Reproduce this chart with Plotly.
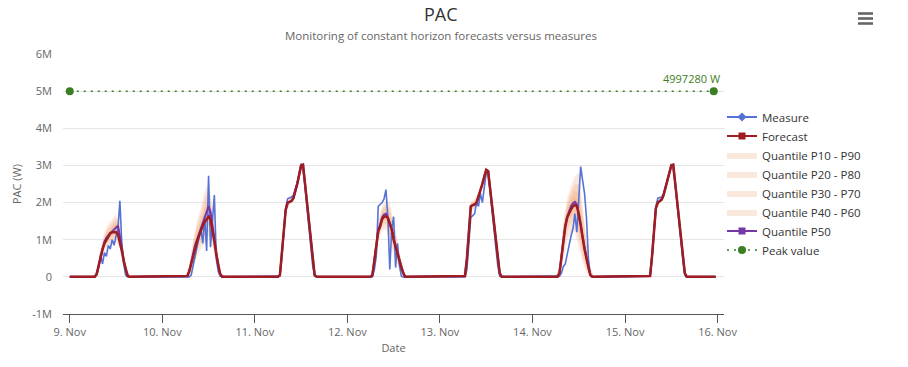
import plotly.graph_objects as go
from datetime import datetime, timedelta

# ---------------- data ----------------
DAYS = ["2023-11-09", "2023-11-10", "2023-11-11", "2023-11-12",
        "2023-11-13", "2023-11-14", "2023-11-15"]
TICK_DATES = ["2023-11-09", "2023-11-10", "2023-11-11", "2023-11-12",
              "2023-11-13", "2023-11-14", "2023-11-15", "2023-11-16"]
TICK_LABELS = ["9. Nov", "10. Nov", "11. Nov", "12. Nov",
               "13. Nov", "14. Nov", "15. Nov", "16. Nov"]
Y_TICKS = [-1e6, 0, 1e6, 2e6, 3e6, 4e6, 5e6, 6e6]
Y_LABELS = ["-1M", "0", "1M", "2M", "3M", "4M", "5M", "6M"]

# daytime half-hour slots (hours), values outside are 0 W
HALF_HOURS = [6, 6.5, 7, 7.5, 8, 8.5, 9, 9.5, 10, 10.5, 11, 11.5,
              12, 12.5, 13, 13.5, 14, 14.5, 15, 15.5, 16, 16.5, 17]
# quantile slots (hours)
Q_HOURS = [6, 7, 8, 9, 10, 11, 12, 13, 14, 15, 16]

# values in MW
MEASURE_MW = [
    [0, 0, 0.05, 0.25, 0.6, 0.35, 0.65, 0.55, 0.85, 0.75, 1.0, 0.85, 1.1, 1.3, 2.05, 0.9, 0.35, 0.05, 0, 0, 0, 0, 0],
    [0, 0, 0, 0.05, 0.3, 0.5, 0.75, 1.0, 1.3, 0.9, 1.6, 0.7, 2.72, 0.8, 1.6, 2.2, 0.5, 0.15, 0.02, 0, 0, 0, 0],
    [0, 0.02, 0.5, 1.15, 1.85, 2.1, 2.12, 2.15, 2.2, 2.35, 2.55, 2.8, 3.05, 2.95, 2.4, 1.85, 1.3, 0.8, 0.3, 0.02, 0, 0, 0],
    [0, 0, 0.2, 0.55, 1.9, 1.95, 2.0, 2.1, 2.35, 1.6, 0.2, 1.3, 1.62, 0.25, 0.9, 0.3, 0.02, 0, 0, 0, 0, 0, 0],
    [0, 0, 0.2, 0.8, 1.6, 1.65, 1.7, 2.0, 1.9, 2.25, 2.0, 2.4, 2.8, 2.8, 2.3, 1.75, 1.25, 0.75, 0.3, 0.02, 0, 0, 0],
    [0, 0, 0.02, 0.1, 0.28, 0.35, 0.6, 0.9, 1.1, 1.3, 1.7, 1.2, 2.2, 2.97, 2.6, 2.25, 1.6, 0.5, 0.05, 0, 0, 0, 0],
    [0, 0.02, 0.5, 1.2, 1.9, 2.12, 2.13, 2.15, 2.25, 2.42, 2.62, 2.82, 3.02, 2.98, 2.5, 1.95, 1.45, 0.95, 0.45, 0.05, 0, 0, 0],
]
FORECAST_MW = [
    [0, 0, 0.08, 0.3, 0.55, 0.75, 0.9, 1.0, 1.1, 1.17, 1.2, 1.2, 1.2, 1.15, 0.95, 0.7, 0.42, 0.18, 0.03, 0, 0, 0, 0],
    [0, 0.02, 0.15, 0.35, 0.6, 0.8, 0.95, 1.1, 1.25, 1.38, 1.48, 1.56, 1.62, 1.55, 1.3, 0.95, 0.6, 0.3, 0.08, 0, 0, 0, 0],
    [0, 0.05, 0.6, 1.2, 1.8, 2.0, 2.02, 2.04, 2.12, 2.3, 2.5, 2.75, 3.0, 3.02, 2.5, 1.95, 1.45, 0.95, 0.45, 0.05, 0, 0, 0],
    [0, 0.05, 0.4, 0.85, 1.22, 1.35, 1.55, 1.62, 1.63, 1.58, 1.45, 1.28, 1.0, 0.8, 0.6, 0.42, 0.25, 0.1, 0, 0, 0, 0, 0],
    [0, 0.02, 0.5, 1.3, 1.9, 1.93, 1.95, 2.0, 2.15, 2.3, 2.5, 2.7, 2.88, 2.85, 2.4, 1.9, 1.4, 0.9, 0.45, 0.1, 0, 0, 0],
    [0, 0, 0.1, 0.5, 1.0, 1.35, 1.6, 1.72, 1.82, 1.9, 1.94, 1.9, 1.7, 1.4, 1.05, 0.75, 0.5, 0.25, 0.05, 0, 0, 0, 0],
    [0, 0.02, 0.55, 1.25, 1.85, 2.0, 2.03, 2.08, 2.2, 2.4, 2.6, 2.8, 3.0, 3.02, 2.55, 2.0, 1.5, 1.0, 0.5, 0.1, 0, 0, 0],
]
P50_MW = [
    [0, 0, 0.08, 0.3, 0.55, 0.78, 0.95, 1.05, 1.12, 1.18, 1.22, 1.28, 1.33, 1.38, 1.1, 0.75, 0.45, 0.2, 0.04, 0, 0, 0, 0],
    [0, 0.02, 0.15, 0.35, 0.62, 0.85, 1.0, 1.15, 1.3, 1.45, 1.6, 1.75, 1.9, 1.75, 1.4, 1.0, 0.62, 0.3, 0.08, 0, 0, 0, 0],
    [0, 0.05, 0.6, 1.2, 1.8, 2.0, 2.02, 2.04, 2.12, 2.3, 2.5, 2.75, 3.0, 3.02, 2.5, 1.95, 1.45, 0.95, 0.45, 0.05, 0, 0, 0],
    [0, 0.05, 0.42, 0.9, 1.28, 1.4, 1.6, 1.68, 1.7, 1.6, 1.45, 1.28, 1.02, 0.82, 0.65, 0.45, 0.28, 0.1, 0, 0, 0, 0, 0],
    [0, 0.02, 0.5, 1.3, 1.9, 1.93, 1.95, 2.0, 2.15, 2.3, 2.5, 2.7, 2.88, 2.85, 2.4, 1.9, 1.4, 0.9, 0.45, 0.1, 0, 0, 0],
    [0, 0, 0.1, 0.5, 1.0, 1.38, 1.62, 1.78, 1.9, 1.98, 2.02, 1.95, 1.72, 1.4, 1.05, 0.75, 0.5, 0.25, 0.05, 0, 0, 0, 0],
    [0, 0.02, 0.55, 1.25, 1.85, 2.0, 2.03, 2.08, 2.2, 2.4, 2.6, 2.8, 3.0, 3.02, 2.55, 2.0, 1.5, 1.0, 0.5, 0.1, 0, 0, 0],
]

P10_MW = [
    [0, 0.02, 0.35, 0.7, 0.85, 0.9, 0.95, 0.75, 0.25, 0, 0],
    [0, 0.01, 0.3, 0.55, 0.75, 0.9, 1.1, 0.85, 0.32, 0, 0],
    [0, 0.54, 1.72, 1.94, 2.04, 2.42, 2.93, 2.42, 1.38, 0.4, 0],
    [0, 0.22, 0.98, 1.25, 1.28, 0.95, 0.6, 0.33, 0.1, 0, 0],
    [0, 0.38, 1.78, 1.82, 2.0, 2.35, 2.76, 2.2, 1.25, 0.35, 0],
    [0, 0, 0.42, 1.0, 1.2, 1.22, 0.8, 0.38, 0.12, 0, 0],
    [0, 0.5, 1.79, 1.97, 2.13, 2.53, 2.94, 2.48, 1.44, 0.45, 0],
]
P20_MW = [
    [0, 0.04, 0.42, 0.78, 0.93, 1.0, 1.07, 0.86, 0.32, 0.01, 0],
    [0, 0.04, 0.4, 0.7, 0.92, 1.12, 1.38, 1.05, 0.42, 0.02, 0],
    [0, 0.56, 1.74, 1.96, 2.06, 2.44, 2.95, 2.44, 1.4, 0.41, 0],
    [0, 0.3, 1.08, 1.38, 1.42, 1.1, 0.72, 0.42, 0.16, 0, 0],
    [0, 0.41, 1.81, 1.85, 2.04, 2.39, 2.79, 2.25, 1.29, 0.38, 0],
    [0, 0.02, 0.6, 1.24, 1.45, 1.5, 1.05, 0.55, 0.22, 0, 0],
    [0, 0.51, 1.8, 1.98, 2.15, 2.55, 2.95, 2.5, 1.45, 0.46, 0],
]
P30_MW = [
    [0, 0.05, 0.47, 0.85, 1.0, 1.08, 1.17, 0.95, 0.37, 0.02, 0],
    [0, 0.07, 0.48, 0.8, 1.05, 1.3, 1.58, 1.18, 0.5, 0.04, 0],
    [0, 0.57, 1.76, 1.98, 2.08, 2.46, 2.96, 2.46, 1.41, 0.42, 0],
    [0, 0.34, 1.15, 1.46, 1.52, 1.22, 0.82, 0.5, 0.2, 0, 0],
    [0, 0.44, 1.84, 1.88, 2.08, 2.43, 2.82, 2.3, 1.33, 0.4, 0],
    [0, 0.04, 0.74, 1.38, 1.62, 1.7, 1.25, 0.7, 0.3, 0.01, 0],
    [0, 0.52, 1.82, 2.0, 2.17, 2.57, 2.97, 2.52, 1.47, 0.47, 0],
]
P40_MW = [
    [0, 0.07, 0.51, 0.9, 1.06, 1.15, 1.25, 1.03, 0.41, 0.03, 0],
    [0, 0.1, 0.55, 0.9, 1.18, 1.45, 1.75, 1.3, 0.56, 0.06, 0],
    [0, 0.59, 1.78, 2.0, 2.1, 2.48, 2.98, 2.48, 1.43, 0.44, 0],
    [0, 0.38, 1.22, 1.54, 1.62, 1.35, 0.93, 0.58, 0.24, 0, 0],
    [0, 0.47, 1.87, 1.92, 2.12, 2.47, 2.85, 2.35, 1.37, 0.43, 0],
    [0, 0.06, 0.86, 1.5, 1.76, 1.86, 1.45, 0.85, 0.38, 0.02, 0],
    [0, 0.54, 1.84, 2.02, 2.19, 2.59, 2.99, 2.54, 1.49, 0.49, 0],
]
P60_MW = [
    [0, 0.1, 0.6, 1.0, 1.18, 1.3, 1.42, 1.18, 0.5, 0.06, 0],
    [0, 0.2, 0.7, 1.1, 1.42, 1.75, 2.05, 1.5, 0.68, 0.1, 0],
    [0, 0.61, 1.82, 2.04, 2.14, 2.52, 3.02, 2.52, 1.47, 0.46, 0],
    [0, 0.46, 1.33, 1.66, 1.78, 1.56, 1.12, 0.72, 0.32, 0.01, 0],
    [0, 0.53, 1.93, 1.98, 2.18, 2.53, 2.91, 2.45, 1.43, 0.47, 0],
    [0, 0.15, 1.14, 1.74, 2.04, 2.18, 2.0, 1.28, 0.62, 0.1, 0],
    [0, 0.56, 1.86, 2.04, 2.21, 2.61, 3.01, 2.56, 1.51, 0.51, 0],
]
P70_MW = [
    [0, 0.12, 0.65, 1.05, 1.24, 1.37, 1.5, 1.25, 0.55, 0.08, 0],
    [0, 0.25, 0.8, 1.25, 1.55, 1.9, 2.2, 1.62, 0.76, 0.13, 0],
    [0, 0.63, 1.84, 2.06, 2.16, 2.54, 3.04, 2.54, 1.49, 0.48, 0],
    [0, 0.5, 1.38, 1.74, 1.86, 1.7, 1.26, 0.8, 0.36, 0.03, 0],
    [0, 0.56, 1.96, 2.02, 2.22, 2.57, 2.94, 2.5, 1.47, 0.5, 0],
    [0, 0.2, 1.26, 1.86, 2.17, 2.34, 2.25, 1.5, 0.75, 0.15, 0],
    [0, 0.58, 1.88, 2.06, 2.23, 2.63, 3.03, 2.58, 1.53, 0.53, 0],
]
P80_MW = [
    [0, 0.15, 0.7, 1.12, 1.32, 1.45, 1.58, 1.33, 0.62, 0.11, 0],
    [0, 0.3, 0.9, 1.38, 1.7, 2.1, 2.35, 1.75, 0.85, 0.16, 0],
    [0, 0.64, 1.86, 2.08, 2.18, 2.56, 3.05, 2.56, 1.5, 0.49, 0],
    [0, 0.55, 1.44, 1.82, 1.95, 1.85, 1.38, 0.88, 0.4, 0.04, 0],
    [0, 0.59, 1.99, 2.05, 2.26, 2.61, 2.97, 2.55, 1.51, 0.52, 0],
    [0, 0.25, 1.38, 1.98, 2.3, 2.5, 2.5, 1.7, 0.85, 0.2, 0],
    [0, 0.59, 1.9, 2.08, 2.25, 2.65, 3.05, 2.6, 1.55, 0.54, 0],
]
P90_MW = [
    [0, 0.2, 0.78, 1.2, 1.42, 1.55, 1.68, 1.42, 0.7, 0.15, 0],
    [0, 0.35, 1.0, 1.5, 1.85, 2.3, 2.55, 1.9, 0.95, 0.2, 0],
    [0, 0.66, 1.88, 2.1, 2.2, 2.58, 3.07, 2.58, 1.52, 0.5, 0],
    [0, 0.6, 1.5, 1.9, 2.05, 2.0, 1.5, 0.95, 0.45, 0.05, 0],
    [0, 0.62, 2.02, 2.08, 2.3, 2.65, 3.0, 2.6, 1.55, 0.55, 0],
    [0, 0.3, 1.5, 2.1, 2.45, 2.7, 2.8, 1.9, 0.95, 0.25, 0],
    [0, 0.6, 1.91, 2.09, 2.27, 2.67, 3.06, 2.62, 1.56, 0.55, 0],
]

PEAK_W = 4997280
PEAK_START = "2023-11-09 00:00"
PEAK_END = "2023-11-15 23:00"

# ---------------- build series ----------------
def full_series(day_lists):
    xs, ys = [], []
    for d, day in enumerate(DAYS):
        base = datetime.fromisoformat(day)
        for k in range(48):
            h = k / 2
            xs.append(base + timedelta(hours=h))
            ys.append(day_lists[d][HALF_HOURS.index(h)] * 1e6 if h in HALF_HOURS else 0.0)
    return xs, ys


def band(lo, hi):
    xs, ys = [], []
    for d, day in enumerate(DAYS):
        base = datetime.fromisoformat(day)
        t = [base + timedelta(hours=h) for h in Q_HOURS]
        xs += t + t[::-1] + [None]
        ys += [v * 1e6 for v in hi[d]] + [v * 1e6 for v in lo[d][::-1]] + [None]
    return xs, ys


FONT = "Open Sans, Lato, sans-serif"
C_MEAS = "#5672d6"
C_FC = "#9e1c22"
C_P50 = "#7437a8"
C_PEAK = "#3c7e22"
BAND_FILL = "rgba(240,158,108,0.24)"

fig = go.Figure()

bands = [("Quantile P10 - P90", P10_MW, P90_MW),
         ("Quantile P20 - P80", P20_MW, P80_MW),
         ("Quantile P30 - P70", P30_MW, P70_MW),
         ("Quantile P40 - P60", P40_MW, P60_MW)]
for i, (name, lo, hi) in enumerate(bands):
    bx, by = band(lo, hi)
    fig.add_trace(go.Scatter(x=bx, y=by, mode="lines", fill="toself",
                             fillcolor=BAND_FILL, line=dict(width=0),
                             name=name, legendrank=3 + i, hoverinfo="skip"))

mx, my = full_series(MEASURE_MW)
fig.add_trace(go.Scatter(x=mx, y=my, mode="lines", line=dict(color=C_MEAS, width=1.6),
                         showlegend=False, name="Measure"))
px50, py50 = full_series(P50_MW)
fig.add_trace(go.Scatter(x=px50, y=py50, mode="lines", line=dict(color=C_P50, width=2),
                         showlegend=False, name="Quantile P50"))
fx, fy = full_series(FORECAST_MW)
fig.add_trace(go.Scatter(x=fx, y=fy, mode="lines", line=dict(color=C_FC, width=2.5),
                         showlegend=False, name="Forecast"))

fig.add_trace(go.Scatter(x=[PEAK_START, PEAK_END], y=[PEAK_W, PEAK_W], mode="lines+markers",
                         line=dict(color=C_PEAK, width=1.5, dash="2px,5px"),
                         marker=dict(color=C_PEAK, size=8), name="Peak value", legendrank=8))

# legend-only entries with markers
fig.add_trace(go.Scatter(x=[None], y=[None], mode="lines+markers", name="Measure",
                         line=dict(color=C_MEAS, width=2), marker=dict(symbol="diamond", size=7, color=C_MEAS),
                         legendrank=1))
fig.add_trace(go.Scatter(x=[None], y=[None], mode="lines+markers", name="Forecast",
                         line=dict(color=C_FC, width=2), marker=dict(symbol="square", size=7, color=C_FC),
                         legendrank=2))
fig.add_trace(go.Scatter(x=[None], y=[None], mode="lines+markers", name="Quantile P50",
                         line=dict(color=C_P50, width=2), marker=dict(symbol="square", size=7, color=C_P50),
                         legendrank=7))

# ---------------- layout ----------------
W, H = 908, 367
L, T = 63, 54
R = W - 724
B = H - 314
PW, PH = W - L - R, H - T - B


def px_x(p):  # screen px -> paper
    return (p - L) / PW


def px_y(p):
    return (H - B - p) / PH


shapes = []
for yy in (13.5, 18.5, 23.5):
    shapes.append(dict(type="rect", xref="paper", yref="paper",
                       x0=px_x(858), x1=px_x(873), y0=px_y(yy + 1.3), y1=px_y(yy - 1.3),
                       fillcolor="#666666", line=dict(width=0)))

annotations = [
    dict(text="PAC", xref="paper", yref="paper", x=px_x(441), y=px_y(14),
         xanchor="center", yanchor="middle", showarrow=False,
         font=dict(family=FONT, size=18, color="#333333")),
    dict(text="Monitoring of constant horizon forecasts versus measures", xref="paper", yref="paper",
         x=px_x(441), y=px_y(35), xanchor="center", yanchor="middle", showarrow=False,
         font=dict(family=FONT, size=11.5, color="#666666")),
    dict(text="4997280 W", x=PEAK_END, y=PEAK_W, xanchor="right", yanchor="bottom",
         xshift=8, yshift=3, showarrow=False,
         font=dict(family=FONT, size=11, color=C_PEAK)),
]

fig.update_layout(
    width=W, height=H,
    margin=dict(l=L, r=R, t=T, b=B, autoexpand=False),
    paper_bgcolor="white", plot_bgcolor="white",
    font=dict(family=FONT, size=11, color="#666666"),
    showlegend=True,
    legend=dict(x=px_x(722), y=px_y(183.5), xanchor="left", yanchor="middle",
                font=dict(family=FONT, size=11.5, color="#333333"),
                bgcolor="rgba(0,0,0,0)", tracegroupgap=0),
    xaxis=dict(type="date",
               range=["2023-11-08 22:15", "2023-11-16 01:40"],
               tickvals=TICK_DATES, ticktext=TICK_LABELS,
               showgrid=False, zeroline=False,
               showline=True, linecolor="#555555", linewidth=1,
               ticks="outside", ticklen=8, tickcolor="#555555",
               tickfont=dict(family=FONT, size=11, color="#666666"),
               title=dict(text="Date", font=dict(family=FONT, size=11, color="#666666"), standoff=6)),
    yaxis=dict(range=[-1e6, 6e6], tickvals=Y_TICKS, ticktext=Y_LABELS,
               showgrid=True, gridcolor="#e6e6e6", gridwidth=1, zeroline=False,
               showline=False, ticks="", ticklabelstandoff=10,
               tickfont=dict(family=FONT, size=11, color="#666666"),
               title=dict(text="PAC (W)", font=dict(family=FONT, size=11, color="#666666"), standoff=8)),
    shapes=shapes,
    annotations=annotations,
)

fig.write_html("out.html", config={"displayModeBar": False},
               post_script="document.body.style.margin='0';")
